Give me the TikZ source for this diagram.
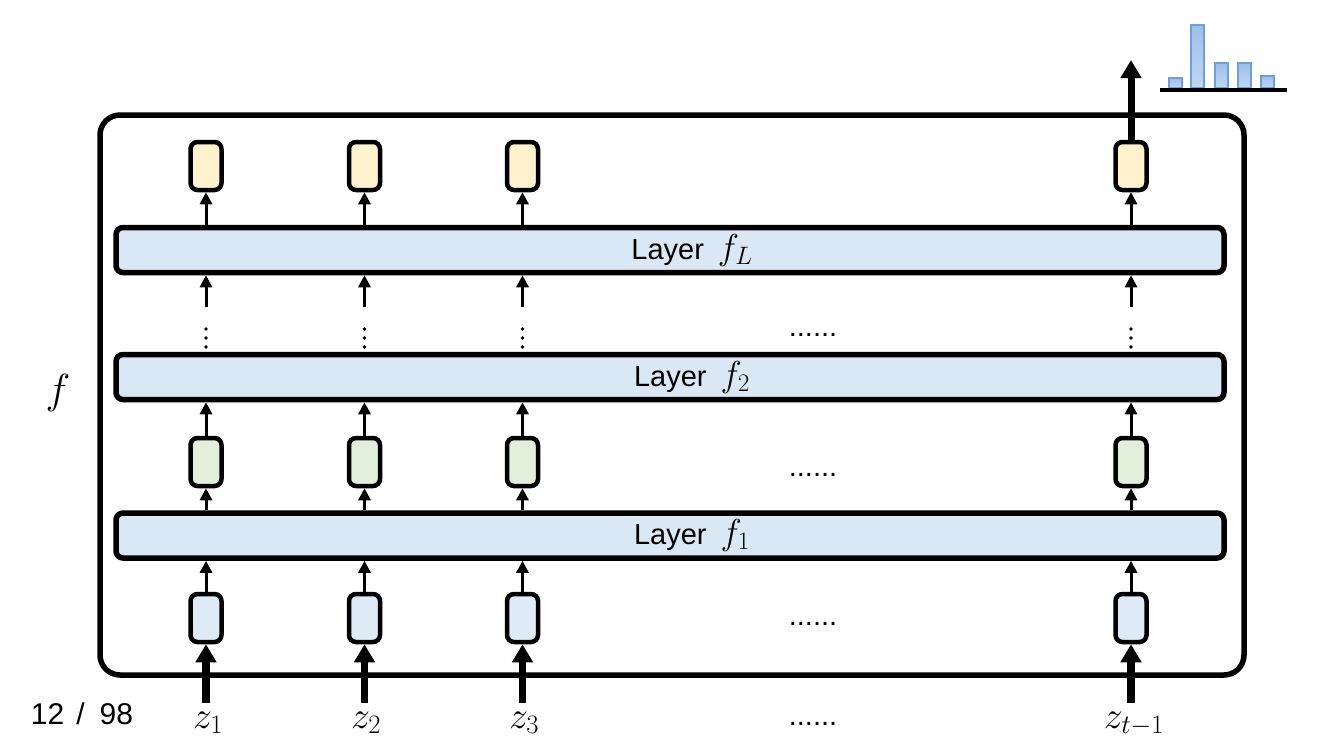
\RequirePackage{fix-cm}
\documentclass[tikz,border=0pt]{standalone}
\usepackage[no-math]{fontspec}
\newfontfamily\lsans{Liberation Sans}
\usetikzlibrary{arrows.meta}
\definecolor{layerblue}{HTML}{DAE8F5}
\definecolor{inblue}{HTML}{DEEBF7}
\definecolor{hidgreen}{HTML}{E2EFDA}
\definecolor{outyellow}{HTML}{FFF2CC}
\definecolor{barline}{HTML}{6E9FD9}
\definecolor{bartop}{HTML}{9CC0EA}
\definecolor{barbot}{HTML}{BFD7F1}
\tikzset{
  outerbox/.style={draw, line width=5.5pt, rounded corners=20pt, minimum width=1144pt, minimum height=560pt, inner sep=0pt},
  layerbox/.style={draw, fill=layerblue, line width=5.5pt, rounded corners=7pt, minimum width=1108pt, minimum height=45pt, inner sep=0pt, font=\lsans\fontsize{29}{32}\selectfont},
  cell/.style={draw, line width=4.5pt, rounded corners=7pt, minimum width=31pt, minimum height=48pt, inner sep=0pt},
  incell/.style={cell, fill=inblue},
  hidcell/.style={cell, fill=hidgreen},
  outcell/.style={cell, fill=outyellow},
  thin arrow/.style={line width=3pt, -{Triangle[length=12pt, width=12pt]}},
  thick arrow/.style={line width=7.5pt, -{Triangle[length=18pt, width=20pt]}},
  hdots/.style={font=\lsans\fontsize{29}{32}\selectfont, anchor=base, inner sep=0pt},
  zlabel/.style={font=\fontsize{38}{42}\selectfont, anchor=base, inner sep=0pt},
  bar/.style={draw=barline, line width=1.2pt, top color=bartop, bottom color=barbot}
}
\newcommand{\bigmath}[1]{{\fontsize{36}{40}\selectfont$#1$}}
\newcommand{\layerlabel}[1]{\kern44pt Layer\kern14pt\bigmath{#1}}
\begin{document}
\begin{tikzpicture}[x=1pt, y=-1pt]
\useasboundingbox (0,0) rectangle (1334,750);

% outer box
\node[outerbox] (F) at (672,395) {};

% layers
\node[layerbox] (L1) at (670,535.5) {\layerlabel{f_1}};
\node[layerbox] (L2) at (670,377) {\layerlabel{f_2}};
\node[layerbox] (LL) at (670,250) {\layerlabel{f_L}};

% columns
\foreach \i/\x in {1/206, 2/364.5, 3/522.5, 4/1131} {
  \node[incell] (in\i) at (\x,618) {};
  \node[hidcell] (h\i) at (\x,462) {};
  \node[outcell] (o\i) at (\x,166) {};
  \coordinate (v\i) at (\x,338);
  \coordinate (a\i) at (\x,307);
  \coordinate (b\i) at (\x,703);
  \fill ([yshift=9pt]v\i) circle (1.8pt) (v\i) circle (1.8pt) ([yshift=-9pt]v\i) circle (1.8pt);
  \draw[thin arrow] (in\i.north) -- (in\i.north |- L1.south);
  \draw[thin arrow] (L1.north -| h\i.south) -- (h\i.south);
  \draw[thin arrow] (h\i.north) -- (h\i.north |- L2.south);
  \draw[thin arrow] (a\i) -- (a\i |- LL.south);
  \draw[thin arrow] (LL.north -| o\i.south) -- (o\i.south);
  \draw[thick arrow] (b\i) -- (in\i.south);
}

% horizontal dots
\node[hdots] (d1) at (813,336) {......};
\node[hdots] (d2) at (813,476) {......};
\node[hdots] (d3) at (813,625) {......};
\node[hdots] (d4) at (813,725) {......};

% input labels
\node[zlabel] (z1) at (208,728) {$z_1$};
\node[zlabel] (z2) at (366,728) {$z_2$};
\node[zlabel] (z3) at (524,728) {$z_3$};
\node[zlabel] (z4) at (1134,728) {$z_{t-1}$};

% f label
\node[font=\fontsize{42}{46}\selectfont, inner sep=0pt] (flab) at (58,393) {$f$};

% page number
\node[font=\lsans\fontsize{30}{34}\selectfont, anchor=base, inner sep=0pt] (pg) at (82,724) {12\kern12pt/\kern15pt98};

% output arrow
\coordinate (top) at (1131,60);
\draw[thick arrow, line width=7pt] (o4.north) -- (top);

% histogram
\draw[bar] (1169,88) rectangle (1182,78);
\draw[bar] (1191,88) rectangle (1204,25);
\draw[bar] (1215,88) rectangle (1228,63);
\draw[bar] (1238,88) rectangle (1251,63);
\draw[bar] (1261,88) rectangle (1274,76);
\coordinate (hl) at (1160,90);
\coordinate (hr) at (1287,90);
\draw[line width=3.5pt] (hl) -- (hr);
\end{tikzpicture}
\end{document}
